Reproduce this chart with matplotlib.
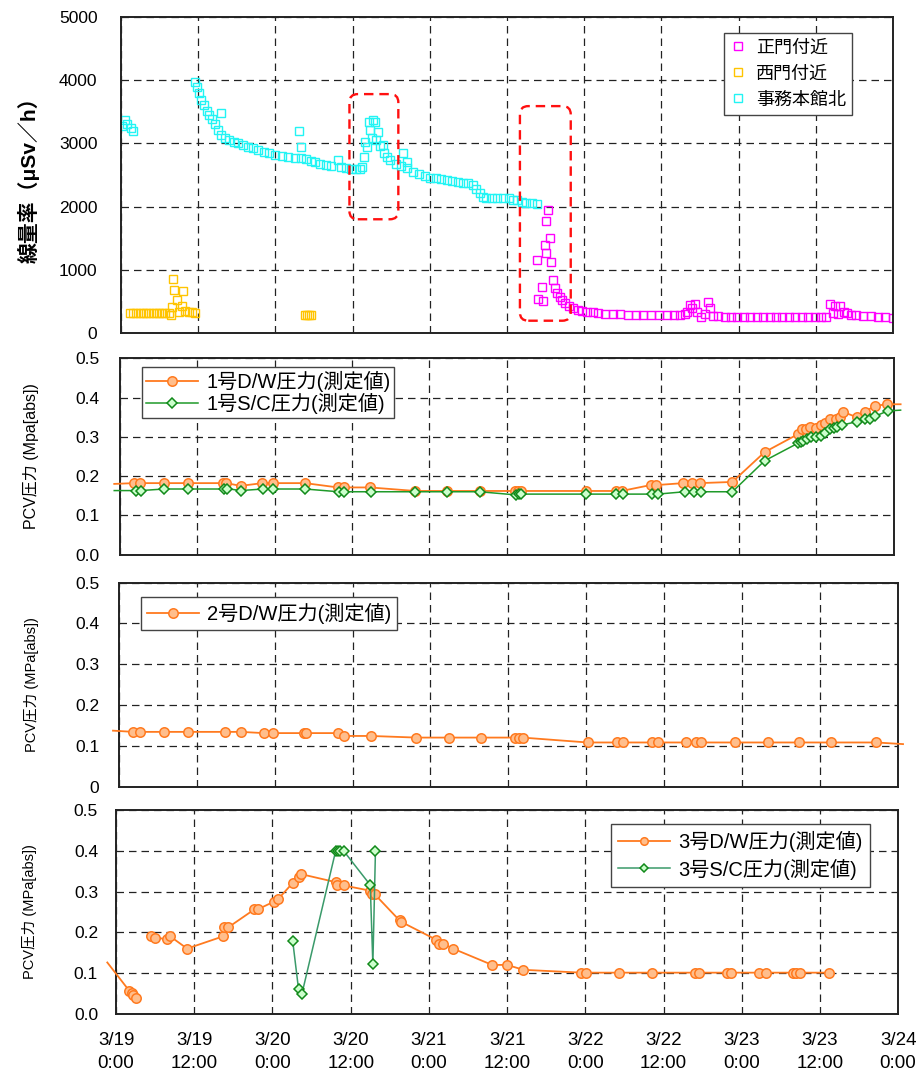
import numpy as np
import matplotlib
matplotlib.use('Agg')
import matplotlib.pyplot as plt
from matplotlib.lines import Line2D
from matplotlib.patches import FancyBboxPatch

plt.rcParams['font.family'] = ['Liberation Sans', 'Noto Sans CJK JP']
plt.rcParams['axes.unicode_minus'] = False

# x axis: hours since 3/19 0:00
x_ticks = [0, 12, 24, 36, 48, 60, 72, 84, 96, 108, 120]
x_labels = ['3/19\n0:00', '3/19\n12:00', '3/20\n0:00', '3/20\n12:00', '3/21\n0:00',
            '3/21\n12:00', '3/22\n0:00', '3/22\n12:00', '3/23\n0:00', '3/23\n12:00',
            '3/24\n0:00']

# dose rate (uSv/h)
jimu_t = [0.2, 0.6, 1.0, 1.5, 1.9,
          11.5, 11.8, 12.1, 12.5, 12.9, 13.3, 13.7, 14.1, 14.6, 15.1, 15.5, 15.6,
          16.2, 16.8, 17.5, 18.2, 19.0, 19.7, 20.5, 21.3, 22.2, 23.0, 24.0, 25.0, 26.0, 27.0,
          27.7, 27.9, 28.0, 28.8, 29.5, 30.1, 31.0, 31.8, 32.7,
          33.7, 34.2, 35.0, 35.8, 36.5, 37.1,
          37.4, 37.7, 37.9, 38.3, 38.6, 38.7, 39.0, 39.2, 39.5, 39.7, 40.0, 40.3, 40.7, 40.8, 41.3, 41.8,
          42.8, 43.5, 43.8, 44.4, 44.5, 45.4, 46.3, 47.2, 48.0, 49.0, 49.8, 50.6, 51.5, 52.3, 53.2,
          54.0, 54.7, 55.2, 55.8, 56.3, 56.8, 57.6, 58.5, 59.4, 60.3, 61.0, 61.5, 62.3, 63.0, 63.8, 64.6]
jimu_v = [3270, 3370, 3300, 3240, 3200,
          3975, 3900, 3800, 3690, 3600, 3520, 3450, 3380, 3300, 3220, 3485, 3140,
          3090, 3060, 3030, 3000, 2970, 2950, 2920, 2900, 2870, 2850, 2820, 2800, 2790, 2775,
          3200, 2950, 2770, 2760, 2720, 2700, 2680, 2660, 2640,
          2745, 2620, 2610, 2600, 2590, 2600,
          2630, 2790, 3030, 2940, 3345, 3220, 3080, 3370, 3340, 3060, 3185, 2960, 2975, 2850, 2790, 2740,
          2680, 2650, 2850, 2710, 2610, 2550, 2520, 2490, 2460, 2450, 2430, 2420, 2410, 2395, 2380,
          2370, 2340, 2280, 2210, 2160, 2135, 2130, 2135, 2135, 2130, 2110, 2100, 2080, 2050, 2050, 2040]

seimon_t = [1.4, 1.9, 2.4, 2.9, 3.4, 3.9, 4.4, 4.9, 5.4, 5.9, 6.4, 6.9, 7.4,
            7.8, 7.9, 8.1, 8.2, 8.7, 9.0, 9.4, 9.7, 10.0, 10.5, 11.0, 11.5,
            28.6, 28.9, 29.2, 29.6]
seimon_v = [312, 312, 312, 312, 312, 312, 312, 312, 312, 312, 312, 312, 312,
            285, 416, 850, 680, 522, 340, 427, 665, 350, 340, 330, 312,
            285, 285, 285, 285]

shomon_t = [64.7, 64.8, 65.4, 65.6, 65.9, 66.0, 66.1, 66.4, 66.7, 66.9, 67.1,
            67.4, 67.8, 68.2, 68.6, 69.0, 69.6, 70.3, 71.0, 71.7, 72.4,
            73.3, 74.2, 75.3, 76.5, 77.6, 78.8, 80.0, 81.2, 82.4, 83.6, 84.8, 86.0, 86.9,
            87.6, 88.0, 88.4, 88.8, 89.2, 89.6, 90.2, 90.7, 91.3, 91.5,
            92.0, 92.8, 93.8, 94.8, 95.8, 96.8, 97.8, 98.8, 99.8, 100.8, 101.8, 102.8, 103.8,
            104.8, 105.8, 106.8, 107.8, 108.8, 109.5,
            110.2, 110.6, 111.0, 111.4, 111.8, 112.3, 112.8,
            113.5, 114.3, 115.4, 116.5, 117.7, 118.8, 120.0]
shomon_v = [1155, 540, 735, 510, 1390, 1777, 1260, 1945, 1500, 1130, 840,
            710, 640, 575, 520, 470, 430, 395, 370, 350, 337,
            325, 315, 305, 300, 295, 290, 287, 285, 285, 283, 283, 283, 285,
            300, 340, 443, 400, 460, 330, 258, 300, 495, 395,
            270, 262, 260, 258, 258, 256, 255, 255, 254, 254, 253, 253, 252,
            252, 252, 251, 251, 250, 250,
            460, 320, 420, 300, 427, 340, 311,
            290, 278, 269, 262, 255, 248, 242]

# PCV pressure (MPa abs)
dw1_t = [-0.9, 2.2, 3.1, 6.8, 10.6, 16.0, 16.5, 18.7, 22.1, 23.7, 28.7, 33.8, 34.8, 38.8,
         45.8, 50.8, 55.8, 61.2, 61.7, 62.2, 72.3, 76.9, 77.8, 82.3, 83.2, 87.4, 88.8, 89.9,
         95.0, 100.0, 105.2, 105.8, 106.4, 107.1, 107.9, 108.8, 109.4, 110.2, 111.0, 111.7,
         112.1, 114.3, 115.6, 117.1, 119.0, 121.1]
dw1_p = [0.180, 0.182, 0.182, 0.182, 0.182, 0.182, 0.182, 0.175, 0.182, 0.182, 0.182, 0.171,
         0.171, 0.171, 0.162, 0.162, 0.162, 0.162, 0.162, 0.162, 0.162, 0.162, 0.162, 0.177,
         0.177, 0.182, 0.182, 0.182, 0.185, 0.261, 0.307, 0.319, 0.320, 0.324, 0.322, 0.330,
         0.335, 0.345, 0.346, 0.350, 0.364, 0.350, 0.364, 0.379, 0.383, 0.383]

sc1_t = [-0.9, 2.4, 3.2, 6.8, 10.6, 16.1, 16.6, 18.7, 22.2, 23.8, 28.7, 33.9, 34.8, 38.9,
         45.8, 50.8, 55.8, 61.4, 61.9, 62.2, 72.3, 76.9, 78.0, 82.6, 83.4, 87.6, 89.0, 90.1,
         95.0, 100.0, 105.2, 105.6, 106.0, 106.5, 107.2, 107.9, 108.8, 109.4, 110.2, 110.7,
         111.2, 112.0, 114.4, 115.6, 116.4, 117.2, 119.1, 121.1]
sc1_p = [0.163, 0.163, 0.163, 0.167, 0.167, 0.167, 0.168, 0.163, 0.167, 0.167, 0.167, 0.160,
         0.160, 0.160, 0.160, 0.160, 0.160, 0.152, 0.154, 0.154, 0.154, 0.154, 0.154, 0.154,
         0.154, 0.160, 0.160, 0.160, 0.160, 0.239, 0.284, 0.288, 0.290, 0.294, 0.299, 0.300,
         0.302, 0.309, 0.319, 0.322, 0.326, 0.330, 0.339, 0.346, 0.346, 0.353, 0.366, 0.368]

dw2_t = [-0.9, 2.2, 3.2, 6.9, 10.7, 16.3, 18.8, 22.3, 23.7, 28.5, 28.8, 33.7, 34.7, 38.8,
         45.8, 50.9, 55.8, 61.1, 61.7, 62.2, 72.2, 76.8, 77.7, 82.2, 83.1, 87.3, 88.9, 89.7,
         94.9, 100.0, 104.8, 109.7, 116.7, 120.8]
dw2_p = [0.137, 0.134, 0.134, 0.134, 0.134, 0.134, 0.134, 0.131, 0.131, 0.131, 0.131, 0.131,
         0.124, 0.124, 0.120, 0.120, 0.120, 0.120, 0.120, 0.120, 0.108, 0.108, 0.108, 0.108,
         0.108, 0.108, 0.108, 0.108, 0.108, 0.108, 0.108, 0.108, 0.108, 0.104]

dw3_t = [-1.35, 2.0, 2.4, 2.6, 3.0, np.nan, 5.3, 6.0, 7.8, 8.3, 10.9, 16.4, 16.6, 17.2, 21.2,
         21.7, 24.2, 24.9, 27.1, 28.0, 28.3, 33.7, 33.9, 34.9, 39.0, 39.2, 39.7, 43.5, 43.7,
         49.1, 49.6, 50.2, 51.7, 57.7, 60.0, 62.5, 71.4, 72.1, 77.1, 82.2, 88.8, 89.4, 93.7,
         94.4, 98.7, 99.7, 103.9, 104.4, 104.9, 109.4]
dw3_p = [0.126, 0.057, 0.050, 0.047, 0.040, np.nan, 0.190, 0.187, 0.183, 0.190, 0.160, 0.190,
         0.212, 0.212, 0.256, 0.256, 0.275, 0.282, 0.321, 0.336, 0.343, 0.323, 0.315, 0.315,
         0.302, 0.293, 0.293, 0.229, 0.226, 0.182, 0.172, 0.172, 0.160, 0.120, 0.120, 0.108,
         0.101, 0.101, 0.101, 0.101, 0.101, 0.101, 0.101, 0.101, 0.101, 0.101, 0.101, 0.101,
         0.101, 0.101]

sc3_t = [27.1, 28.0, 28.5, 33.7, 34.0, 34.4, 34.9, 39.0, 39.4, 39.8]
sc3_p = [0.179, 0.060, 0.048, 0.400, 0.400, 0.400, 0.400, 0.316, 0.122, 0.400]

dose_ticks = [0, 1000, 2000, 3000, 4000, 5000]
dose_labels = ['0', '1000', '2000', '3000', '4000', '5000']
p_ticks = [0.0, 0.1, 0.2, 0.3, 0.4, 0.5]
p_labels = ['0.0', '0.1', '0.2', '0.3', '0.4', '0.5']
p_labels_u2 = ['0', '0.1', '0.2', '0.3', '0.4', '0.5']

orange = dict(color='#FF7A1F', lw=1.3)
orange_m = dict(marker='o', ms=6.8, mfc='#FFBE8C', mec='#FF7A1F', mew=1.1, ls='none')
green = dict(color='#1F9A2A', lw=1.1)
green_m = dict(marker='D', ms=5.6, mfc='#CCFFCC', mec='#118A1A', mew=1.1, ls='none')

fig = plt.figure(figsize=(9.17, 10.82), dpi=100)
ax1 = fig.add_axes([0.1320, 0.6922, 0.8419, 0.2921])
ax2 = fig.add_axes([0.1309, 0.4875, 0.8435, 0.1813])
ax3 = fig.add_axes([0.1296, 0.2731, 0.8495, 0.1884])
ax4 = fig.add_axes([0.1266, 0.0630, 0.8528, 0.1884])


def style(ax, yticks, ylabels, pad):
    ax.set_xlim(0, 120)
    ax.set_xticks(x_ticks)
    ax.set_yticks(yticks)
    ax.set_yticklabels(ylabels)
    ax.set_ylim(yticks[0], yticks[-1])
    ax.grid(True, color='#222222', ls=(0, (6, 4)), lw=0.9)
    ax.set_axisbelow(True)
    ax.tick_params(length=0, labelsize=12.5, pad=pad)
    for s in ax.spines.values():
        s.set_color('#222222')
        s.set_linewidth(1.4)


def pcv(ax, t, p, ls, ms, z):
    t = np.array(t)
    p = np.array(p)
    ax.plot(t, p, clip_on=False, zorder=z, **ls)
    inside = (t >= 0) & (t <= 120)
    ax.plot(t[inside], p[inside], zorder=z + 0.5, **ms)
    return Line2D([], [], **ls, **{k: v for k, v in ms.items() if k != 'ls'})


leg_kw = dict(borderaxespad=0, fancybox=False, framealpha=1, edgecolor='#444444',
              fontsize=14.5, handlelength=2.6, handletextpad=0.4)

# panel 1: dose rate
sq = dict(marker='s', ms=6.2, mfc='none', mew=1.0, ls='none')
h_jimu, = ax1.plot(jimu_t, jimu_v, mec='#22F4F4', **sq)
h_sei, = ax1.plot(seimon_t, seimon_v, mec='#FFC400', **sq)
h_sho, = ax1.plot(shomon_t, shomon_v, mec='#FF00FF', **sq)
style(ax1, dose_ticks, dose_labels, 17)
ax1.tick_params(labelbottom=False)
for x0, x1, y0, y1 in [(35.5, 43.1, 1800, 3780), (62.0, 69.9, 195, 3590)]:
    ax1.add_patch(FancyBboxPatch((x0, y0), x1 - x0, y1 - y0,
                                 boxstyle='round,pad=0,rounding_size=1.3', mutation_aspect=100,
                                 fill=False, ec='#FF1010', lw=1.7, ls=(0, (4, 2.5)), zorder=4))
ax1.legend([h_sho, h_sei, h_jimu], ['正門付近', '西門付近', '事務本館北'],
           loc='upper right', bbox_to_anchor=(0.947, 0.949), borderaxespad=0,
           fancybox=False, framealpha=1, edgecolor='#444444', fontsize=13,
           handlelength=0.8, handletextpad=0.6, labelspacing=0.5, borderpad=0.35,
           markerscale=0.85)
ax1.set_ylabel('線量率（μSv／h）', fontsize=15, fontweight='bold')
ax1.yaxis.set_label_coords(-0.105, 0.5)

# panel 2: unit 1
l1 = pcv(ax2, dw1_t, dw1_p, orange, orange_m, 3)
l2 = pcv(ax2, sc1_t, sc1_p, green, green_m, 4)
style(ax2, p_ticks, p_labels, 15)
ax2.tick_params(labelbottom=False)
ax2.legend([l1, l2], ['1号D/W圧力(測定値)', '1号S/C圧力(測定値)'],
           loc='upper left', bbox_to_anchor=(0.028, 0.957),
           labelspacing=0.05, borderpad=0.2, **leg_kw)
ax2.set_ylabel('PCV圧力 (Mpa[abs])', fontsize=11.5)
ax2.yaxis.set_label_coords(-0.105, 0.5)

# panel 3: unit 2
l3 = pcv(ax3, dw2_t, dw2_p, orange, orange_m, 3)
style(ax3, p_ticks, p_labels_u2, 14)
ax3.tick_params(labelbottom=False)
ax3.legend([l3], ['2号D/W圧力(測定値)'],
           loc='upper left', bbox_to_anchor=(0.028, 0.928), borderpad=0.3, **leg_kw)
ax3.set_ylabel('PCV圧力 (MPa[abs])', fontsize=10.5)
ax3.yaxis.set_label_coords(-0.103, 0.5)

# panel 4: unit 3
green4 = dict(green, color='#3A9A6A')
l4 = pcv(ax4, dw3_t, dw3_p, orange, orange_m, 3)
l5 = pcv(ax4, sc3_t, sc3_p, green4, green_m, 4)
style(ax4, p_ticks, p_labels, 13)
ax4.set_xticklabels(x_labels, fontsize=13.5, linespacing=1.45)
ax4.tick_params(axis='x', pad=13)
ax4.legend([l4, l5], ['3号D/W圧力(測定値)', '3号S/C圧力(測定値)'],
           loc='upper right', bbox_to_anchor=(0.964, 0.93),
           labelspacing=0.3, borderpad=0.35, markerscale=0.8, **leg_kw)
ax4.set_ylabel('PCV圧力 (MPa[abs])', fontsize=10.5)
ax4.yaxis.set_label_coords(-0.101, 0.5)

fig.savefig('out.png', dpi=100, facecolor='white')
